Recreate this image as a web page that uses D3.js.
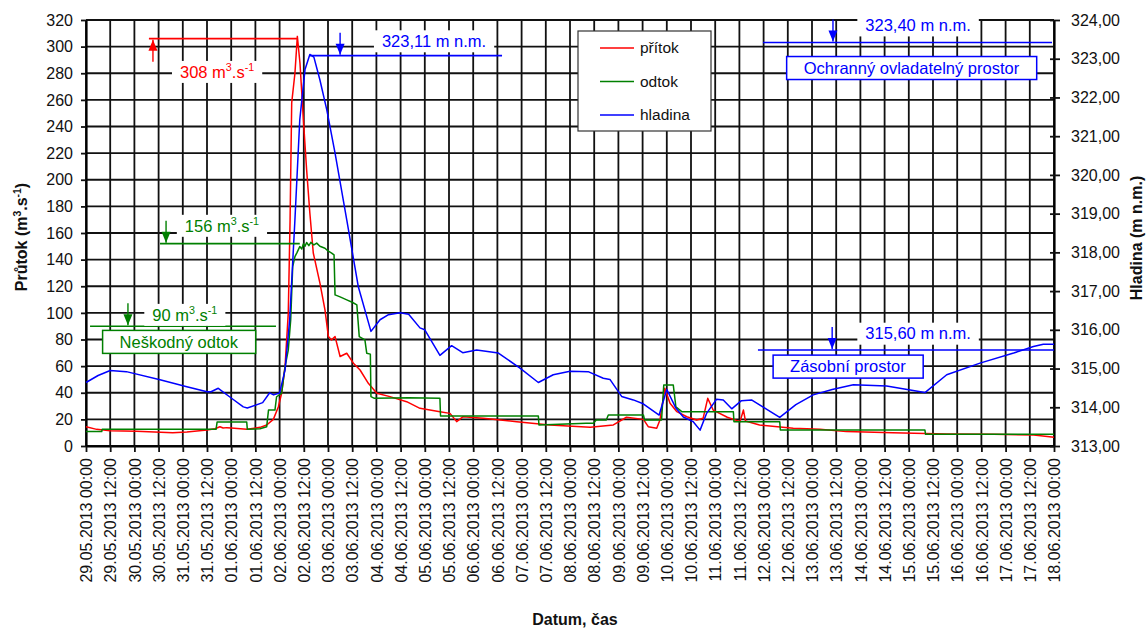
<!DOCTYPE html>
<html>
<head>
<meta charset="utf-8">
<script src="https://cdn.jsdelivr.net/npm/d3@7"></script>
<style>
  body { margin: 0; background: #fff; }
  svg { display: block; font-family: "Liberation Sans", Arial, sans-serif; }
</style>
</head>
<body>
<svg></svg>
<script>
// data: [hodiny od 29.05.2013 00:00, hodnota]
const pritok = [[0,14.5],[5.3,12.5],[12,11.5],[25,11],[43,10],[50,10.5],[60,12],[64,13],[66.4,14.5],[68,13.5],
  [69.8,13.8],[72,13.5],[79.7,12.5],[86.3,14],[89.6,15.8],[92.9,20],[95.4,29.5],[97,39.6],[98.7,59.6],[100.3,99.8],
  [101.2,170],[102,257.7],[103.6,280],[104.8,307.7],[106.1,287.7],[107.8,245],[109.4,207.5],[111,175],[112.7,145],[116,122.3],
  [118.5,102.3],[120.2,82.2],[121.8,79.7],[123.5,82.2],[126,67.2],[129.3,69.7],[132.6,62.2],[135.9,57.1],[140,47.1],[144.2,39.6],
  [150.7,37.1],[159,33.3],[165.6,28.3],[175.5,25.8],[180.5,24.5],[183.8,18.3],[187,22],[197,20.8],[213.6,18.3],[230,15.8],
  [250,14],[261.5,15.8],[268,21.6],[276.4,20],[278.8,14.5],[283,13.3],[284.6,19.5],[287,43.3],[289.6,32.1],[293,25.8],
  [297.9,22],[302.8,19.5],[306,20.8],[308.3,35.8],[311,27],[318,21.6],[324.3,18.3],[326,27],[327,18.8],[334,15.8],
  [350.7,13.3],[364,12.5],[377,10.8],[400,10],[426.8,9],[450,8.8],[470,8.3],[480,6.5]];

const odtok = [[0,10.8],[7.8,10.8],[8,12.5],[64.5,12.5],[65,18],[79.7,18],[80,12.5],[86.3,13],[89.6,14.5],[90.5,27],
  [93.7,27],[94.5,37],[97,39.6],[98.7,59.6],[100.3,72],[101.5,94.7],[102.5,134.8],[103.6,142.3],[104.5,144.9],[106,149.8],
  [107,148],[107.8,151.9],[108.6,150],[109.4,152.9],[110.5,150.5],[111.5,153],[113,151],[114.4,152.4],[116,150],[118.5,148.6],
  [120,146.5],[121.8,144.9],[123,143.5],[123.5,113.5],[126,112],[129.3,109.8],[132,108],[134.3,106],[135.5,82.2],[138.3,79.7],
  [139.2,69.7],[141,69],[141.3,37.1],[143,35.8],[160,36.2],[175.5,35.8],[175.8,22.5],[224.3,22.5],[224.6,15.8],[248,17],
  [251.6,17],[253,19.5],[258,19.5],[259,23.3],[276.4,23.3],[277,19.5],[285.4,19.5],[286.5,45.9],[291.2,45.9],[292.5,29.5],
  [295.4,25.8],[321,25.8],[321.3,18.3],[344,18.3],[344.3,12],[416,12],[416.3,8.8],[480,8.8]];

const hladina = [[0,314.64],[6,314.82],[12,314.95],[20,314.92],[36.7,314.71],[50,314.53],[60,314.40],[62,314.40],[65.6,314.49],[72,314.24],
  [78,314.01],[80,313.98],[87.6,314.12],[91,314.37],[93,314.32],[96,314.37],[98.7,314.96],[101,316.26],[103.6,318.84],[106,321.42],
  [108.6,322.72],[111,323.11],[113,323.04],[116,322.45],[119.4,321.68],[123.5,320.56],[129.3,318.84],[135,317.12],[141.3,315.96],[145.8,316.26],
  [150,316.39],[155.7,316.44],[160,316.40],[165.6,316.05],[168,316.00],[175.5,315.34],[181.3,315.59],[186.8,315.41],[193.7,315.48],[204.5,315.40],
  [215.2,315.01],[224.3,314.64],[231.7,314.84],[240,314.93],[249,314.92],[256.5,314.75],[259.8,314.72],[265.6,314.28],[271.4,314.19],[276.3,314.09],
  [284.2,313.80],[288,314.46],[292.5,313.98],[296.2,313.75],[301,313.63],[304.5,313.41],[307.8,313.85],[312.7,314.21],[316,314.19],[320.2,313.96],
  [325,314.17],[330,314.19],[344,313.74],[352,314.07],[360.6,314.32],[370,314.46],[380.5,314.58],[397,314.55],[416,314.38],[426.8,314.84],
  [443.3,315.14],[460,315.40],[469.8,315.57],[474.7,315.63],[480,315.63]];

const casoveZnacky = d3.range(0, 481, 12);
const prutokZnacky = d3.range(0, 321, 20);
const hladinaZnacky = d3.range(313, 325, 1);

const serie = [
  { nazev: "přítok", data: pritok, barva: "#ff0000", osa: "L" },
  { nazev: "odtok", data: odtok, barva: "#008000", osa: "L" },
  { nazev: "hladina", data: hladina, barva: "#0000ff", osa: "R" }
];

// kóty: hladina čáry, rozsah v hodinách, šipka, popisek
const koty = [
  { text: [["308 m"],["3",1],[".s"],["-1",1]], barva: "#ff0000", osa: "L", uroven: 306, od: 31.2, do: 104.6, sipka: 33.2, nahoru: true, popisX: 65, popisY: 281 },
  { text: [["323,11 m n.m."]], barva: "#0000ff", osa: "R", uroven: 323.08, od: 111, do: 206.3, sipka: 126, popisX: 172.6, popisY: 323.45 },
  { text: [["323,40 m n.m."]], barva: "#0000ff", osa: "R", uroven: 323.42, od: 335.7, do: 479, sipka: 370.4, popisX: 412.6, popisY: 323.86 },
  { text: [["315,60 m n.m."]], barva: "#0000ff", osa: "R", uroven: 315.48, od: 333.2, do: 480, sipka: 370, popisX: 412.6, popisY: 315.9 },
  { text: [["156 m"],["3",1],[".s"],["-1",1]], barva: "#008000", osa: "L", uroven: 152, od: 36.7, do: 106, sipka: 39.7, popisX: 67.4, popisY: 165.4 },
  { text: [["90 m"],["3",1],[".s"],["-1",1]], barva: "#008000", osa: "L", uroven: 90, od: 2, do: 94.2, sipka: 20.8, popisX: 49, popisY: 98.5 }
];

const ramecky = [
  { text: "Neškodný odtok", barva: "#008000", osa: "L", x: 46, y: 78.2 },
  { text: "Ochranný ovladatelný prostor", barva: "#0000ff", osa: "R", x: 409.3, y: 322.76 },
  { text: "Zásobní prostor", barva: "#0000ff", osa: "R", x: 377.8, y: 315.05 }
];

const width = 1146, height = 628;
const m = { left: 86, right: 1054, top: 20, bottom: 446 };
const svg = d3.select("svg").attr("width", width).attr("height", height);

const x = d3.scaleLinear().domain([0, 480]).range([m.left, m.right]);
const yL = d3.scaleLinear().domain([0, 320]).range([m.bottom, m.top]);
const yR = d3.scaleLinear().domain([313, 324]).range([m.bottom, m.top]);
const osaY = o => o === "L" ? yL : yR;

const start = new Date(2013, 4, 29, 0, 0);
const fmtDatum = d3.timeFormat("%d.%m.%Y  %H:%M");

// mřížka
const mrizka = svg.append("g").attr("stroke", "#111").attr("stroke-width", 1.8);
mrizka.selectAll(".v").data(casoveZnacky).join("line")
  .attr("x1", d => x(d)).attr("x2", d => x(d)).attr("y1", m.top).attr("y2", m.bottom);
mrizka.selectAll(".h").data(prutokZnacky).join("line")
  .attr("x1", m.left).attr("x2", m.right).attr("y1", d => yL(d)).attr("y2", d => yL(d));

// osy
const osaX = svg.append("g").attr("transform", `translate(0,${m.bottom})`)
  .call(d3.axisBottom(x).tickValues(casoveZnacky).tickSize(6).tickSizeOuter(0).tickFormat(d => fmtDatum(d3.timeHour.offset(start, d))));
osaX.selectAll("text")
  .attr("transform", "rotate(-90)")
  .attr("text-anchor", "end")
  .attr("x", -12).attr("y", 0).attr("dy", "0.35em");

const osaL = svg.append("g").attr("transform", `translate(${m.left},0)`)
  .call(d3.axisLeft(yL).tickValues(prutokZnacky).tickSize(5).tickPadding(8).tickSizeOuter(0));

const osaR = svg.append("g").attr("transform", `translate(${m.right},0)`)
  .call(d3.axisRight(yR).tickValues(hladinaZnacky).tickSize(6).tickPadding(11).tickSizeOuter(0)
    .tickFormat(d => d3.format(".2f")(d).replace(".", ",")));
osaR.selectAll(".tick line").attr("x1", -4);

[osaX, osaL, osaR].forEach(g => {
  g.attr("font-size", 16).attr("font-family", null);
  g.selectAll("text").attr("fill", "#111");
  g.selectAll("line").attr("stroke", "#111").attr("stroke-width", 1.8);
  g.select(".domain").attr("stroke", "#000").attr("stroke-width", 2.2);
});

// průběhy
serie.forEach(s => {
  const y = osaY(s.osa);
  svg.append("path")
    .datum(s.data)
    .attr("fill", "none")
    .attr("stroke", s.barva)
    .attr("stroke-width", 1.5)
    .attr("stroke-linejoin", "round")
    .attr("d", d3.line().x(d => x(d[0])).y(d => y(d[1])));
});

// text s horními indexy
function psatText(sel, casti, velikost) {
  let zvednuto = false;
  casti.forEach(([t, sup]) => {
    const ts = sel.append("tspan").text(t);
    if (sup) {
      ts.attr("font-size", velikost * 0.65);
      if (!zvednuto) ts.attr("dy", -velikost * 0.38);
      zvednuto = true;
    } else if (zvednuto) {
      ts.attr("dy", velikost * 0.38);
      zvednuto = false;
    }
  });
}

// kóty
koty.forEach(k => {
  const y = osaY(k.osa);
  const g = svg.append("g").attr("stroke", k.barva).attr("fill", k.barva);
  const ly = y(k.uroven);
  g.append("line").attr("x1", x(k.od)).attr("x2", x(k.do)).attr("y1", ly).attr("y2", ly).attr("stroke-width", 1.6);

  const ax = x(k.sipka);
  const tip = k.nahoru ? ly + 1 : ly - 1;
  const ocas = k.nahoru ? ly + 23 : ly - 23;
  const s = k.nahoru ? 1 : -1;
  g.append("line").attr("x1", ax).attr("x2", ax).attr("y1", ocas).attr("y2", tip).attr("stroke-width", 1.4);
  g.append("path").attr("stroke", "none")
    .attr("d", `M${ax},${tip} L${ax - 4.5},${tip + s * 11} L${ax + 4.5},${tip + s * 11} Z`);

  const t = svg.append("text")
    .attr("x", x(k.popisX)).attr("y", y(k.popisY))
    .attr("dy", "0.35em").attr("text-anchor", "middle")
    .attr("font-size", 16.5).attr("fill", k.barva);
  psatText(t, k.text, 16.5);
  const bb = t.node().getBBox();
  svg.insert("rect", () => t.node())
    .attr("x", bb.x - 8).attr("y", y(k.popisY) - 11)
    .attr("width", bb.width + 16).attr("height", 22)
    .attr("fill", "#fff");
});

// rámečky s popisem
ramecky.forEach(r => {
  const y = osaY(r.osa);
  const t = svg.append("text")
    .attr("x", x(r.x)).attr("y", y(r.y))
    .attr("dy", "0.35em").attr("text-anchor", "middle")
    .attr("font-size", 16.5).attr("fill", r.barva)
    .text(r.text);
  const bb = t.node().getBBox();
  svg.insert("rect", () => t.node())
    .attr("x", bb.x - 17).attr("y", y(r.y) - 11.5)
    .attr("width", bb.width + 34).attr("height", 23)
    .attr("fill", "#fff").attr("stroke", r.barva).attr("stroke-width", 1.5);
});

// legenda
const leg = svg.append("g").attr("transform", "translate(578,31)");
leg.append("rect").attr("width", 133).attr("height", 100)
  .attr("fill", "#fff").attr("stroke", "#333").attr("stroke-width", 1.2);
serie.forEach((s, i) => {
  const ly = 17 + i * 33.5;
  leg.append("line").attr("x1", 22).attr("x2", 56).attr("y1", ly).attr("y2", ly)
    .attr("stroke", s.barva).attr("stroke-width", 1.5);
  leg.append("text").attr("x", 62).attr("y", ly).attr("dy", "0.35em")
    .attr("font-size", 15.5).attr("fill", "#111").text(s.nazev);
});

// názvy os
const tL = svg.append("text")
  .attr("transform", "translate(21,237) rotate(-90)")
  .attr("text-anchor", "middle").attr("dy", "0.35em")
  .attr("font-size", 16).attr("font-weight", "bold").attr("fill", "#111");
psatText(tL, [["Průtok (m"],["3",1],[".s"],["-1",1],[")"]], 16);

svg.append("text")
  .attr("transform", "translate(1136,238) rotate(-90)")
  .attr("text-anchor", "middle").attr("dy", "0.35em")
  .attr("font-size", 16).attr("font-weight", "bold").attr("fill", "#111")
  .text("Hladina (m n.m.)");

svg.append("text")
  .attr("x", 575).attr("y", 625)
  .attr("text-anchor", "middle")
  .attr("font-size", 16).attr("font-weight", "bold").attr("fill", "#111")
  .text("Datum, čas");
</script>
</body>
</html>
